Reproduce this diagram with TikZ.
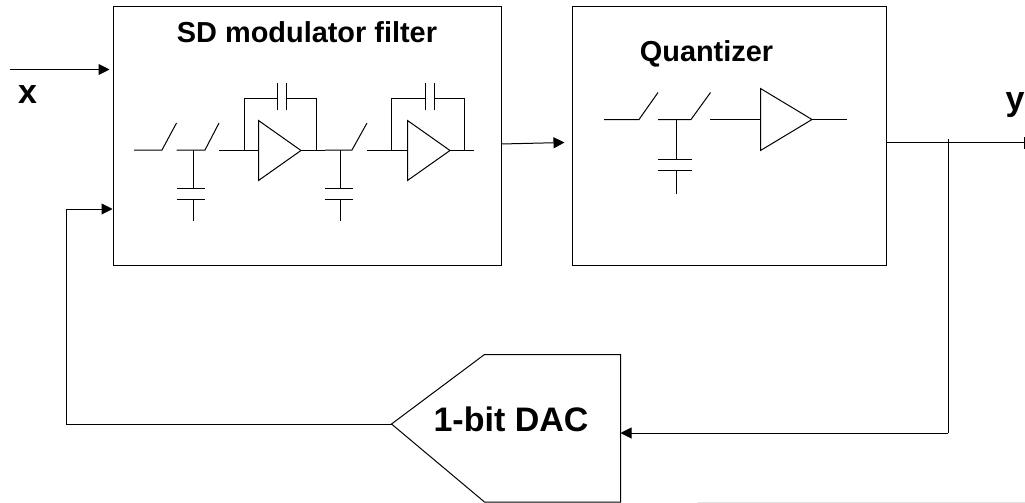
\documentclass[tikz,border=0pt]{standalone}
\usepackage{fontspec}
\setmainfont{Liberation Sans}
\usetikzlibrary{arrows.meta}
\tikzset{
    wire/.style = {line width=1pt},
    sig/.style = {line width=1pt,-{Triangle[length=11pt,width=11pt]}},
    block/.style = {draw,line width=1pt,inner sep=0,anchor=north west},
    blocktxt/.style = {inner sep=0,anchor=base,font=\fontsize{28.9}{30}\selectfont\bfseries},
    pintxt/.style = {inner sep=0,anchor=base west,font=\fontsize{34}{36}\selectfont\bfseries}
}
\begin{document}
\begin{tikzpicture}[x=1pt,y=-1pt]
        \useasboundingbox (0,0) rectangle (1025,503);
        \newcommand\swrise{27}
        % Blocks
        \node[block,minimum width=388pt,minimum height=259pt] (filt) at (113,6) {};
        \node[block,minimum width=314pt,minimum height=259pt] (quant) at (571.5,6) {};
        \path (391.5,424) coordinate (dacin) (620.5,433) coordinate (dacout)
            (484.5,354.5) coordinate (dactop) (484.5,502) coordinate (dacbot)
            (620.5,354.5) coordinate (dactr) (620.5,502) coordinate (dacbr);
        \draw[wire] (dacin) -- (dactop) -- (dactr) -- (dacbr) -- (dacbot) -- cycle;
        % Labels
        \node[blocktxt] (filttxt) at (307,43) {SD modulator filter};
        \node[blocktxt] (quanttxt) at (706.5,62) {Quantizer};
        \node[inner sep=0,anchor=base,font=\fontsize{34}{36}\selectfont\bfseries] (dactxt) at (511,431) {1-bit DAC};
        \node[pintxt] (xtxt) at (18,103) {x};
        \node[pintxt] (ytxt) at (1005.5,110) {y};
        % Signal ends
        \path (10,69.5) coordinate (xin) (109.5,69.5) coordinate (xend)
            (501,144) coordinate (filtout) (564.5,142.5) coordinate (quantin)
            (887,142.5) coordinate (quantout) (1024,142.5) coordinate (yend)
            (1024,137) coordinate (ytop) (1024,149) coordinate (ybot)
            (948,142.5) coordinate (tap) (948,139) coordinate (taptop) (948,433) coordinate (tapbot)
            (66.5,424) coordinate (fbbot) (66.5,209) coordinate (fbtop) (112.5,209) coordinate (fbend)
            (698,502) coordinate (edgel) (1025,502) coordinate (edger);
        % Signals
        \foreach \src/\dest in {xin/xend,filtout/quantin,tapbot/dacout}
            \draw[sig] (\src) to (\dest);
        \draw[sig] (dacin) -- (fbbot) -- (fbtop) -- (fbend);
        \draw[wire] (quantout) -- (yend) (ytop) -- (ybot) (taptop) -- (tapbot);
        \draw[line width=1pt,black!12] (edgel) -- (edger);
        % Switches
        \foreach \xa/\xb/\xc/\yy in {134/162/176.5/150,176.5/205/219/150,325/352/367/150,604/639/658/119.5,658/691/710.5/119.5}
            \draw[wire] (\xa,\yy) -- (\xb,\yy) -- (\xc,\yy-\swrise);
        % Capacitors to ground
        \foreach \xa/\xm/\xb/\yy/\ya/\yb/\yc in {176.5/193/205/150/188/199/221,325/340.5/353/150/188/199/221,658/676.5/692/119.5/159/170.5/194}{
            \draw[wire] (\xm,\yy) -- (\xm,\ya) (\xa,\ya) -- (\xb,\ya);
            \draw[wire] (\xa,\yb) -- (\xb,\yb) (\xm,\yb) -- (\xm,\yc);
        }
        % Amplifiers
        \foreach \xa/\xi/\xt/\xb/\yy/\hgt in {219/258.5/301/325/150.5/30,367/407.5/450/474/150.5/30,710/760.5/812/846.5/119.5/31}{
            \draw[wire] (\xi,\yy-\hgt) -- (\xt,\yy) -- (\xi,\yy+\hgt) -- cycle;
            \draw[wire] (\xa,\yy) -- (\xi,\yy) (\xt,\yy) -- (\xb,\yy);
        }
        % Feedback capacitors
        \foreach \xa/\xb/\xc/\xd in {244/277/286/316.5,391.5/425.5/434/464}{
            \draw[wire] (\xa,150) -- (\xa,98) -- (\xb,98) (\xb,83) -- (\xb,109.5);
            \draw[wire] (\xc,83) -- (\xc,109.5) (\xc,98) -- (\xd,98) -- (\xd,150);
        }
\end{tikzpicture}
\end{document}
